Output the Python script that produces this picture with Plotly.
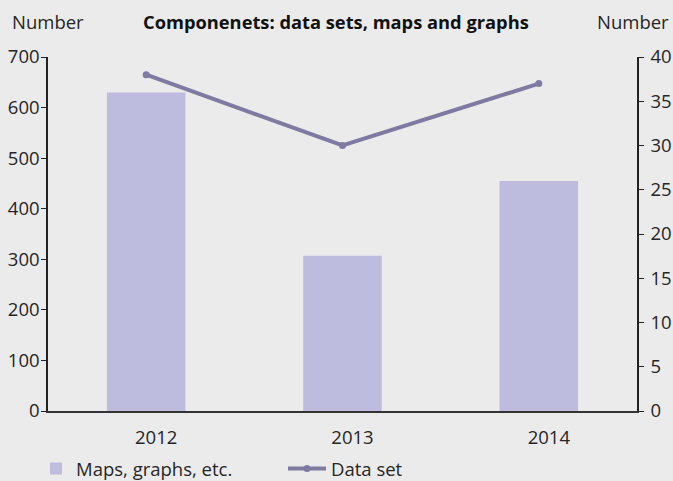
import plotly.graph_objects as go

years = ["2012", "2013", "2014"]
maps_graphs = [630, 307, 455]
data_sets = [38, 30, 37]

font = "Open Sans, sans-serif"
txt = "#262626"
FS = 18.5

L, R, T, B = 48, 36, 57, 70
PW = 673 - L - R
PH = 481 - T - B

def px_x(p):
    return (p - L) / PW

def px_y(p):
    return (481 - B - p) / PH

fig = go.Figure()
fig.add_trace(go.Bar(x=years, y=maps_graphs, name="Maps, graphs, etc.",
                     marker=dict(color="#bdbbde", line=dict(width=0)), width=0.4, yaxis="y",
                     legend="legend"))
fig.add_trace(go.Scatter(x=years, y=data_sets, name="Data set", mode="lines+markers",
                         line=dict(color="#7e7aa2", width=4), marker=dict(size=7, color="#7e7aa2"),
                         yaxis="y2", legend="legend2"))

leg_common = dict(orientation="h", yanchor="middle", xanchor="left",
                  font=dict(size=FS, color=txt), bgcolor="rgba(0,0,0,0)", borderwidth=0)

fig.update_layout(
    width=673, height=481,
    paper_bgcolor="#ebebeb", plot_bgcolor="#ebebeb",
    margin=dict(l=L, r=R, t=T, b=B, autoexpand=False),
    font=dict(family=font, size=FS, color=txt),
    showlegend=True,
    legend=dict(x=px_x(36), y=px_y(469), **leg_common),
    legend2=dict(x=px_x(283), y=px_y(469), itemwidth=38, **leg_common),
    xaxis=dict(showline=True, linecolor="#333333", linewidth=2, ticks="", showgrid=False,
               tickfont=dict(size=FS, color=txt), ticklabelshift=10, ticklabelstandoff=9),
    yaxis=dict(range=[0, 700], dtick=100, showline=True, linecolor="#222222", linewidth=1.5,
               ticks="outside", ticklen=5, tickcolor="#222222", showgrid=False, zeroline=False,
               tickfont=dict(size=FS, color=txt), ticklabelstandoff=-2, automargin=False),
    yaxis2=dict(range=[0, 40], dtick=5, overlaying="y", side="right", showline=True,
                linecolor="#222222", linewidth=1.5, ticks="outside", ticklen=5, tickcolor="#222222",
                showgrid=False, zeroline=False, tickfont=dict(size=FS, color=txt),
                ticklabelstandoff=3, automargin=False),
)
fig.add_annotation(text="Number", xref="paper", yref="paper", x=px_x(10), y=px_y(22),
                   xanchor="left", yanchor="middle", showarrow=False, font=dict(size=FS, color=txt))
fig.add_annotation(text="Number", xref="paper", yref="paper", x=px_x(671), y=px_y(22),
                   xanchor="right", yanchor="middle", showarrow=False, font=dict(size=FS, color=txt))
fig.add_annotation(text="<b>Componenets: data sets, maps and graphs</b>", xref="paper", yref="paper",
                   x=px_x(336), y=px_y(22), xanchor="center", yanchor="middle", showarrow=False,
                   font=dict(size=18.3, color="#111111"))

fig.write_html("out.html", config={"displayModeBar": False},
               post_script="document.body.style.margin='0';document.body.style.overflow='hidden';")
